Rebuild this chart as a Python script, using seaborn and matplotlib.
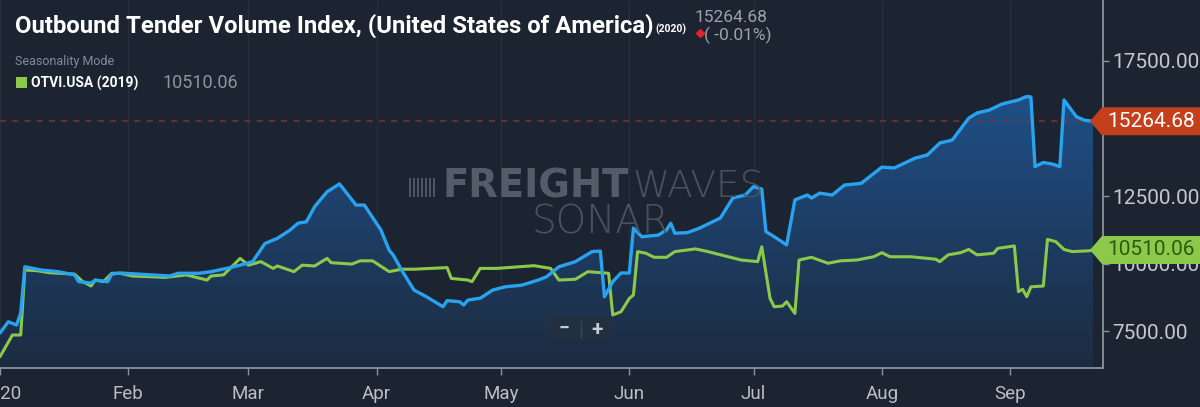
import matplotlib
matplotlib.use("Agg")

import numpy as np
import pandas as pd
import matplotlib.pyplot as plt
import matplotlib.dates as mdates
import seaborn as sns
from matplotlib.colors import LinearSegmentedColormap
from matplotlib.patches import Polygon, Rectangle, FancyBboxPatch
from matplotlib.lines import Line2D

# ==========================
# Data
# ==========================

dates_2020 = [
    "2020-01-01", "2020-01-03", "2020-01-05", "2020-01-06", "2020-01-07", "2020-01-11",
    "2020-01-15", "2020-01-19", "2020-01-20", "2020-01-23", "2020-01-24", "2020-01-27",
    "2020-01-28", "2020-01-30", "2020-02-11", "2020-02-13", "2020-02-18", "2020-02-21",
    "2020-02-25", "2020-02-28", "2020-03-02", "2020-03-05", "2020-03-08", "2020-03-11",
    "2020-03-13", "2020-03-15", "2020-03-17", "2020-03-20", "2020-03-23", "2020-03-27",
    "2020-03-29", "2020-04-02", "2020-04-04", "2020-04-05", "2020-04-07", "2020-04-10",
    "2020-04-13", "2020-04-17", "2020-04-18", "2020-04-21", "2020-04-22", "2020-04-23",
    "2020-04-26", "2020-04-29", "2020-05-02", "2020-05-06", "2020-05-10", "2020-05-12",
    "2020-05-15", "2020-05-19", "2020-05-23", "2020-05-25", "2020-05-26", "2020-05-28",
    "2020-05-30", "2020-06-01", "2020-06-02", "2020-06-04", "2020-06-08", "2020-06-10",
    "2020-06-11", "2020-06-12", "2020-06-15", "2020-06-18", "2020-06-23", "2020-06-26",
    "2020-06-29", "2020-07-01", "2020-07-03", "2020-07-04", "2020-07-06", "2020-07-09",
    "2020-07-11", "2020-07-14", "2020-07-15", "2020-07-17", "2020-07-20", "2020-07-23",
    "2020-07-27", "2020-08-01", "2020-08-04", "2020-08-09", "2020-08-12", "2020-08-15",
    "2020-08-18", "2020-08-22", "2020-08-24", "2020-08-27", "2020-08-30", "2020-09-03",
    "2020-09-05", "2020-09-06", "2020-09-07", "2020-09-09", "2020-09-11", "2020-09-13",
    "2020-09-14", "2020-09-17", "2020-09-19", "2020-09-21",
]
otvi_2020 = [
    7444, 7860, 7740, 8180, 9890, 9770,
    9710, 9590, 9340, 9290, 9400, 9340,
    9620, 9660, 9550, 9650, 9650, 9710,
    9840, 9950, 10080, 10750, 10940, 11240,
    11500, 11550, 12110, 12660, 12950, 12170,
    12170, 11250, 10500, 10320, 9770, 9030,
    8785, 8415, 8640, 8600, 8480, 8660,
    8730, 9030, 9150, 9210, 9400, 9520,
    9890, 10080, 10450, 10470, 8785, 9340,
    9660, 9660, 11320, 11000, 11060, 11250,
    11500, 11130, 11150, 11320, 11690, 12430,
    12540, 12850, 12760, 11190, 11000, 10700,
    12360, 12540, 12430, 12610, 12540, 12910,
    12970, 13570, 13540, 13900, 14020, 14460,
    14570, 15380, 15570, 15680, 15900, 16050,
    16180, 16160, 13590, 13740, 13690, 13590,
    16050, 15430, 15300, 15264.68,
]

dates_2019 = [
    "2020-01-01", "2020-01-04", "2020-01-06", "2020-01-07", "2020-01-10", "2020-01-13",
    "2020-01-19", "2020-01-21", "2020-01-23", "2020-01-24", "2020-01-26", "2020-01-28",
    "2020-01-30", "2020-02-02", "2020-02-10", "2020-02-15", "2020-02-20", "2020-02-21",
    "2020-02-24", "2020-02-28", "2020-03-01", "2020-03-04", "2020-03-07", "2020-03-08",
    "2020-03-12", "2020-03-14", "2020-03-17", "2020-03-20", "2020-03-21", "2020-03-26",
    "2020-03-28", "2020-03-31", "2020-04-04", "2020-04-07", "2020-04-10", "2020-04-18",
    "2020-04-19", "2020-04-23", "2020-04-24", "2020-04-26", "2020-04-30", "2020-05-09",
    "2020-05-13", "2020-05-15", "2020-05-19", "2020-05-22", "2020-05-27", "2020-05-28",
    "2020-05-30", "2020-06-01", "2020-06-02", "2020-06-03", "2020-06-05", "2020-06-07",
    "2020-06-10", "2020-06-12", "2020-06-17", "2020-06-20", "2020-06-28", "2020-07-02",
    "2020-07-03", "2020-07-05", "2020-07-06", "2020-07-08", "2020-07-09", "2020-07-11",
    "2020-07-12", "2020-07-15", "2020-07-19", "2020-07-22", "2020-07-26", "2020-07-30",
    "2020-08-01", "2020-08-03", "2020-08-08", "2020-08-14", "2020-08-15", "2020-08-17",
    "2020-08-20", "2020-08-22", "2020-08-24", "2020-08-28", "2020-08-29", "2020-09-02",
    "2020-09-03", "2020-09-04", "2020-09-05", "2020-09-06", "2020-09-09", "2020-09-10",
    "2020-09-12", "2020-09-14", "2020-09-16", "2020-09-20", "2020-09-21",
]
otvi_2019 = [
    6570, 7370, 7370, 9770, 9745, 9670,
    9620, 9340, 9180, 9400, 9340, 9650,
    9650, 9550, 9500, 9590, 9400, 9550,
    9590, 10200, 9950, 10080, 9830, 9920,
    9710, 9950, 9920, 10200, 10040, 9990,
    10110, 10110, 9710, 9800, 9800, 9860,
    9460, 9400, 9340, 9830, 9830, 9930,
    9830, 9400, 9430, 9710, 9650, 8110,
    8230, 8720, 8850, 10450, 10390, 10240,
    10240, 10450, 10550, 10450, 10140, 10080,
    10630, 8720, 8415, 8440, 8600, 8170,
    10140, 10240, 10020, 10110, 10140, 10260,
    10410, 10260, 10260, 10170, 10080, 10330,
    10410, 10530, 10330, 10390, 10570, 10660,
    8970, 9060, 8785, 9150, 9180, 10900,
    10820, 10530, 10450, 10480, 10510.06,
]

month_ticks = ["2020-01-01", "2020-02-01", "2020-03-01", "2020-04-01", "2020-05-01",
               "2020-06-01", "2020-07-01", "2020-08-01", "2020-09-01"]
month_labels = ["2020", "Feb", "Mar", "Apr", "May", "Jun", "Jul", "Aug", "Sep"]
# 15000 sits under the red last-value badge in the original, so it is not labelled
y_ticks = [7500, 10000, 12500, 17500]

last_2020 = 15264.68
last_2019 = 10510.06
title = "Outbound Tender Volume Index, (United States of America)"
change_text = "( -0.01%)"

df20 = pd.DataFrame({"date": pd.to_datetime(dates_2020), "value": otvi_2020})
df19 = pd.DataFrame({"date": pd.to_datetime(dates_2019), "value": otvi_2019})

# ==========================
# Style
# ==========================

BG = "#1b2430"
BLUE = "#29a3ef"
GREEN = "#8cc94a"
AXIS = "#8a929b"
TXT = "#b9bfc6"

sns.set_theme(style="dark", rc={
    "axes.facecolor": BG,
    "figure.facecolor": BG,
    "grid.color": "#252f3b",
    "grid.linewidth": 1.0,
})
plt.rcParams["font.family"] = ["Roboto", "DejaVu Sans"]

W, H = 1200, 407


def fx(x):
    return x / W


def fy(y):
    return 1 - y / H


fig = plt.figure(figsize=(W / 100, H / 100), dpi=100)
ax = fig.add_axes([0, fy(368), fx(1103), 368 / H])

Y0, Y1 = 6152, 19742
x0 = pd.Timestamp("2020-01-01")
x1 = pd.Timestamp("2020-09-23 10:00")

# gradient area under the 2020 line
poly = ax.fill_between(df20["date"], df20["value"], Y0, color="none", lw=0)
cmap = LinearSegmentedColormap.from_list("otvi", ["#1c2b40", "#1f5088"])
grad = np.linspace(0, 1, 256).reshape(-1, 1)
im = ax.imshow(grad, extent=[mdates.date2num(x0), mdates.date2num(x1), Y0, 16300],
               origin="lower", aspect="auto", cmap=cmap, zorder=1)
im.set_clip_path(poly.get_paths()[0], transform=ax.transData)

ax.axhline(last_2020, color="#7c3428", lw=1.1, ls=(0, (4, 4)), zorder=2)

sns.lineplot(data=df19, x="date", y="value", ax=ax, color=GREEN, lw=2.2, zorder=4)
sns.lineplot(data=df20, x="date", y="value", ax=ax, color=BLUE, lw=2.4, zorder=5)

ax.set_xlim(x0, x1)
ax.set_ylim(Y0, Y1)
ax.set_xlabel("")
ax.set_ylabel("")

ax.set_xticks(pd.to_datetime(month_ticks))
ax.set_xticklabels(month_labels)
ax.xaxis.grid(True)
ax.yaxis.grid(False)

ax.yaxis.tick_right()
ax.set_yticks(y_ticks)
ax.set_yticklabels(["%.2f" % v for v in y_ticks])

ax.tick_params(axis="x", colors=AXIS, labelcolor=TXT, labelsize=13.5, length=5,
               width=1, pad=7, bottom=True, direction="out")
ax.tick_params(axis="y", colors=AXIS, labelcolor="#c3c8cd", labelsize=15, length=4,
               width=1, pad=3, right=True, left=False, direction="out")

for s in ["top", "left"]:
    ax.spines[s].set_visible(False)
for s in ["right", "bottom"]:
    ax.spines[s].set_visible(True)
    ax.spines[s].set_color(AXIS)
    ax.spines[s].set_linewidth(1.3)

# ==========================
# Last-value badges on the right axis
# ==========================

to_fig = fig.transFigure.inverted()


def badge(value, face, text_color):
    yc = ax.transData.transform((0, value))[1]
    pts = [(1090, yc), (1102, yc + 14), (1200, yc + 14), (1200, yc - 14), (1102, yc - 14)]
    pts = to_fig.transform(pts)
    fig.add_artist(Polygon(pts, closed=True, fc=face, ec="none", zorder=5))
    fig.text(fx(1107), to_fig.transform((0, yc))[1], "%.2f" % value, color=text_color,
             fontsize=15, va="center", ha="left", zorder=6)


badge(last_2020, "#c4401d", "white")
badge(last_2019, GREEN, "#2d5a10")

# ==========================
# Header
# ==========================

renderer = fig.canvas.get_renderer()

t = fig.text(fx(15), fy(33), title, color="white", fontweight="bold", fontsize=20,
             va="baseline", family=["Liberation Sans Narrow", "Roboto", "DejaVu Sans"])
bb = t.get_window_extent(renderer)
t.set_fontsize(20 * 637 / bb.width)

fig.text(fx(655), fy(33), "(2020)", color="white", fontweight="bold", fontsize=7.5,
         va="baseline")
fig.text(fx(695), fy(22), "%.2f" % last_2020, color="#9ca2a9", fontsize=12.5,
         va="baseline")
fig.add_artist(Line2D([fx(700)], [fy(33)], marker="D", ms=4, color="#e3202b", lw=0,
                      transform=fig.transFigure))
fig.text(fx(704), fy(40), change_text, color="#9ca2a9", fontsize=12.5, va="baseline")

fig.text(fx(15), fy(62), "Seasonality Mode", color="#858c95", fontsize=9, va="center")
fig.add_artist(Rectangle((fx(16), fy(88)), fx(11), 11 / H, fc=GREEN, ec="none",
                         transform=fig.transFigure))
fig.text(fx(31), fy(83), "OTVI.USA (2019)", color="white", fontweight="bold",
         fontsize=10, va="center")
fig.text(fx(163), fy(83), "%.2f" % last_2019, color="#8d949c", fontsize=13, va="center")

# ==========================
# Watermark + zoom buttons
# ==========================

WM = "#5a646f"
for i in range(7):
    fig.add_artist(Rectangle((fx(409 + i * 4), fy(197)), fx(2), 19 / H, fc=WM,
                             ec="none", alpha=0.8, transform=fig.transFigure))
wm1 = fig.text(fx(443), fy(197), "FREIGHT", color=WM, fontweight="heavy", fontsize=25,
               family=["DejaVu Sans"], va="baseline", alpha=0.9)
bb1 = wm1.get_window_extent(renderer)
wm1.set_fontsize(25 * 187 / bb1.width)
wm2 = fig.text(fx(632), fy(197), "WAVES", color="#4f5863", fontweight="light",
               fontsize=25, family=["DejaVu Sans"], va="baseline", alpha=0.9)
bb2 = wm2.get_window_extent(renderer)
wm2.set_fontsize(min(27, 25 * 158 / bb2.width))
fig.text(fx(600), fy(234), "SONAR", color="#4f5863", fontweight="light", fontsize=28,
         family=["DejaVu Sans"], va="baseline", ha="center", alpha=0.9)

fig.add_artist(FancyBboxPatch((fx(548), fy(341)), fx(64), 25 / H,
                              boxstyle="round,pad=0,rounding_size=0.004",
                              fc="#223040", ec="none", alpha=0.85,
                              transform=fig.transFigure))
fig.add_artist(Line2D([fx(581), fx(581)], [fy(321), fy(337)], color="#3a4755", lw=1,
                      transform=fig.transFigure))
fig.text(fx(564), fy(329), "\u2212", color="#c9cdd2", fontsize=14, fontweight="bold",
         ha="center", va="center")
fig.text(fx(597), fy(329), "+", color="#c9cdd2", fontsize=15, fontweight="bold",
         ha="center", va="center")

fig.savefig("out.png", dpi=100, facecolor=BG)
